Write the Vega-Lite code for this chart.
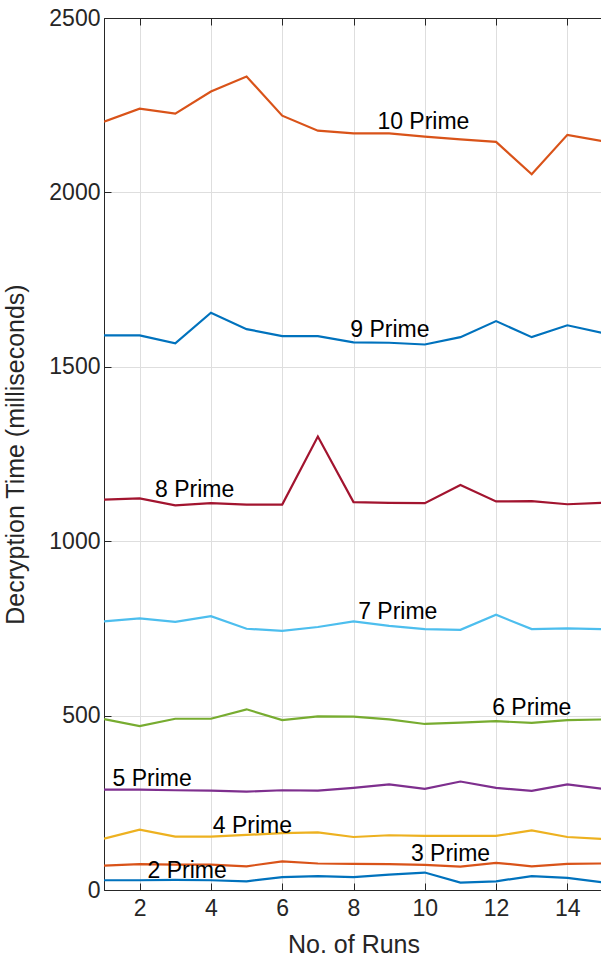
{
  "$schema": "https://vega.github.io/schema/vega-lite/v6.json",
  "autosize": "none",
  "width": 499,
  "height": 872,
  "padding": {"left": 104, "top": 18, "right": 0, "bottom": 73},
  "background": "#ffffff",
  "config": {
    "font": "Liberation Sans",
    "view": {"stroke": "#262626", "strokeWidth": 1},
    "axis": {
      "domainColor": "#262626",
      "tickColor": "#262626",
      "labelColor": "#262626",
      "titleColor": "#262626",
      "gridColor": "#dedede",
      "gridWidth": 1,
      "labelFont": "Liberation Sans",
      "titleFont": "Liberation Sans",
      "labelFontSize": 23,
      "titleFontSize": 25,
      "titleFontWeight": "normal",
      "tickSize": -7
    }
  },
  "datasets": {
    "runs": [
      {"series": "10 Prime", "run": 1, "time": 2203}, {"series": "10 Prime", "run": 2, "time": 2240}, {"series": "10 Prime", "run": 3, "time": 2226}, {"series": "10 Prime", "run": 4, "time": 2289}, {"series": "10 Prime", "run": 5, "time": 2332}, {"series": "10 Prime", "run": 6, "time": 2220}, {"series": "10 Prime", "run": 7, "time": 2177}, {"series": "10 Prime", "run": 8, "time": 2169}, {"series": "10 Prime", "run": 9, "time": 2169}, {"series": "10 Prime", "run": 10, "time": 2160}, {"series": "10 Prime", "run": 11, "time": 2152}, {"series": "10 Prime", "run": 12, "time": 2145}, {"series": "10 Prime", "run": 13, "time": 2052}, {"series": "10 Prime", "run": 14, "time": 2165}, {"series": "10 Prime", "run": 15, "time": 2147},
      {"series": "9 Prime", "run": 1, "time": 1590}, {"series": "9 Prime", "run": 2, "time": 1590}, {"series": "9 Prime", "run": 3, "time": 1567}, {"series": "9 Prime", "run": 4, "time": 1655}, {"series": "9 Prime", "run": 5, "time": 1608}, {"series": "9 Prime", "run": 6, "time": 1588}, {"series": "9 Prime", "run": 7, "time": 1588}, {"series": "9 Prime", "run": 8, "time": 1570}, {"series": "9 Prime", "run": 9, "time": 1569}, {"series": "9 Prime", "run": 10, "time": 1564}, {"series": "9 Prime", "run": 11, "time": 1585}, {"series": "9 Prime", "run": 12, "time": 1631}, {"series": "9 Prime", "run": 13, "time": 1585}, {"series": "9 Prime", "run": 14, "time": 1619}, {"series": "9 Prime", "run": 15, "time": 1597},
      {"series": "8 Prime", "run": 1, "time": 1119}, {"series": "8 Prime", "run": 2, "time": 1123}, {"series": "8 Prime", "run": 3, "time": 1103}, {"series": "8 Prime", "run": 4, "time": 1109}, {"series": "8 Prime", "run": 5, "time": 1105}, {"series": "8 Prime", "run": 6, "time": 1105}, {"series": "8 Prime", "run": 7, "time": 1300}, {"series": "8 Prime", "run": 8, "time": 1112}, {"series": "8 Prime", "run": 9, "time": 1110}, {"series": "8 Prime", "run": 10, "time": 1109}, {"series": "8 Prime", "run": 11, "time": 1161}, {"series": "8 Prime", "run": 12, "time": 1114}, {"series": "8 Prime", "run": 13, "time": 1115}, {"series": "8 Prime", "run": 14, "time": 1106}, {"series": "8 Prime", "run": 15, "time": 1110},
      {"series": "7 Prime", "run": 1, "time": 770}, {"series": "7 Prime", "run": 2, "time": 779}, {"series": "7 Prime", "run": 3, "time": 769}, {"series": "7 Prime", "run": 4, "time": 785}, {"series": "7 Prime", "run": 5, "time": 749}, {"series": "7 Prime", "run": 6, "time": 743}, {"series": "7 Prime", "run": 7, "time": 754}, {"series": "7 Prime", "run": 8, "time": 770}, {"series": "7 Prime", "run": 9, "time": 757}, {"series": "7 Prime", "run": 10, "time": 748}, {"series": "7 Prime", "run": 11, "time": 746}, {"series": "7 Prime", "run": 12, "time": 789}, {"series": "7 Prime", "run": 13, "time": 748}, {"series": "7 Prime", "run": 14, "time": 750}, {"series": "7 Prime", "run": 15, "time": 748},
      {"series": "6 Prime", "run": 1, "time": 490}, {"series": "6 Prime", "run": 2, "time": 470}, {"series": "6 Prime", "run": 3, "time": 491}, {"series": "6 Prime", "run": 4, "time": 491}, {"series": "6 Prime", "run": 5, "time": 518}, {"series": "6 Prime", "run": 6, "time": 487}, {"series": "6 Prime", "run": 7, "time": 498}, {"series": "6 Prime", "run": 8, "time": 497}, {"series": "6 Prime", "run": 9, "time": 489}, {"series": "6 Prime", "run": 10, "time": 476}, {"series": "6 Prime", "run": 11, "time": 480}, {"series": "6 Prime", "run": 12, "time": 484}, {"series": "6 Prime", "run": 13, "time": 479}, {"series": "6 Prime", "run": 14, "time": 487}, {"series": "6 Prime", "run": 15, "time": 489},
      {"series": "5 Prime", "run": 1, "time": 288}, {"series": "5 Prime", "run": 2, "time": 288}, {"series": "5 Prime", "run": 3, "time": 286}, {"series": "5 Prime", "run": 4, "time": 285}, {"series": "5 Prime", "run": 5, "time": 282}, {"series": "5 Prime", "run": 6, "time": 286}, {"series": "5 Prime", "run": 7, "time": 285}, {"series": "5 Prime", "run": 8, "time": 293}, {"series": "5 Prime", "run": 9, "time": 303}, {"series": "5 Prime", "run": 10, "time": 290}, {"series": "5 Prime", "run": 11, "time": 311}, {"series": "5 Prime", "run": 12, "time": 293}, {"series": "5 Prime", "run": 13, "time": 284}, {"series": "5 Prime", "run": 14, "time": 303}, {"series": "5 Prime", "run": 15, "time": 290},
      {"series": "4 Prime", "run": 1, "time": 147}, {"series": "4 Prime", "run": 2, "time": 173}, {"series": "4 Prime", "run": 3, "time": 153}, {"series": "4 Prime", "run": 4, "time": 153}, {"series": "4 Prime", "run": 5, "time": 158}, {"series": "4 Prime", "run": 6, "time": 163}, {"series": "4 Prime", "run": 7, "time": 165}, {"series": "4 Prime", "run": 8, "time": 152}, {"series": "4 Prime", "run": 9, "time": 157}, {"series": "4 Prime", "run": 10, "time": 155}, {"series": "4 Prime", "run": 11, "time": 155}, {"series": "4 Prime", "run": 12, "time": 155}, {"series": "4 Prime", "run": 13, "time": 171}, {"series": "4 Prime", "run": 14, "time": 152}, {"series": "4 Prime", "run": 15, "time": 146},
      {"series": "3 Prime", "run": 1, "time": 70}, {"series": "3 Prime", "run": 2, "time": 74}, {"series": "3 Prime", "run": 3, "time": 73}, {"series": "3 Prime", "run": 4, "time": 73}, {"series": "3 Prime", "run": 5, "time": 68}, {"series": "3 Prime", "run": 6, "time": 82}, {"series": "3 Prime", "run": 7, "time": 76}, {"series": "3 Prime", "run": 8, "time": 75}, {"series": "3 Prime", "run": 9, "time": 74}, {"series": "3 Prime", "run": 10, "time": 72}, {"series": "3 Prime", "run": 11, "time": 67}, {"series": "3 Prime", "run": 12, "time": 78}, {"series": "3 Prime", "run": 13, "time": 68}, {"series": "3 Prime", "run": 14, "time": 75}, {"series": "3 Prime", "run": 15, "time": 76},
      {"series": "2 Prime", "run": 1, "time": 28}, {"series": "2 Prime", "run": 2, "time": 28}, {"series": "2 Prime", "run": 3, "time": 29}, {"series": "2 Prime", "run": 4, "time": 28}, {"series": "2 Prime", "run": 5, "time": 25}, {"series": "2 Prime", "run": 6, "time": 37}, {"series": "2 Prime", "run": 7, "time": 40}, {"series": "2 Prime", "run": 8, "time": 37}, {"series": "2 Prime", "run": 9, "time": 44}, {"series": "2 Prime", "run": 10, "time": 50}, {"series": "2 Prime", "run": 11, "time": 21}, {"series": "2 Prime", "run": 12, "time": 25}, {"series": "2 Prime", "run": 13, "time": 40}, {"series": "2 Prime", "run": 14, "time": 35}, {"series": "2 Prime", "run": 15, "time": 22}
    ],
    "labels": [
      {"label": "10 Prime", "run": 8.67, "time": 2203},
      {"label": "9 Prime", "run": 7.91, "time": 1606},
      {"label": "8 Prime", "run": 2.43, "time": 1147},
      {"label": "7 Prime", "run": 8.13, "time": 796},
      {"label": "6 Prime", "run": 11.89, "time": 521},
      {"label": "5 Prime", "run": 1.24, "time": 317},
      {"label": "4 Prime", "run": 4.05, "time": 183},
      {"label": "3 Prime", "run": 9.61, "time": 102},
      {"label": "2 Prime", "run": 2.22, "time": 55}
    ]
  },
  "resolve": {"axis": {"x": "independent"}},
  "layer": [
    {
      "data": {"name": "runs"},
      "mark": {"type": "line", "strokeWidth": 2.2, "clip": true},
      "encoding": {
        "x": {
          "field": "run", "type": "quantitative",
          "scale": {"domain": [1, 15], "nice": false, "zero": false},
          "axis": {"orient": "bottom", "values": [2, 4, 6, 8, 10, 12, 14], "grid": true, "title": "No. of Runs", "labelPadding": 14, "titlePadding": 12}
        },
        "y": {
          "field": "time", "type": "quantitative",
          "scale": {"domain": [0, 2500], "nice": false},
          "axis": {"values": [0, 500, 1000, 1500, 2000, 2500], "format": "d", "grid": true, "title": "Decryption Time (milliseconds)", "labelPadding": 11, "titlePadding": 20}
        },
        "color": {
          "field": "series", "type": "nominal", "legend": null,
          "scale": {
            "domain": ["10 Prime", "9 Prime", "8 Prime", "7 Prime", "6 Prime", "5 Prime", "4 Prime", "3 Prime", "2 Prime"],
            "range": ["#D95319", "#0072BD", "#A2142F", "#4DBEEE", "#77AC30", "#7E2F8E", "#EDB120", "#D95319", "#0072BD"]
          }
        },
        "detail": {"field": "series"}
      }
    },
    {
      "data": {"name": "runs"},
      "mark": {"type": "rule", "opacity": 0},
      "encoding": {
        "x": {"field": "run", "type": "quantitative", "axis": {"orient": "top", "values": [2, 4, 6, 8, 10, 12, 14], "labels": false, "title": null, "grid": false, "domain": true}}
      }
    },
    {
      "data": {"name": "labels"},
      "mark": {"type": "text", "align": "left", "baseline": "middle", "fontSize": 23, "font": "Liberation Sans", "color": "#000000"},
      "encoding": {
        "x": {"field": "run", "type": "quantitative", "axis": null},
        "y": {"field": "time", "type": "quantitative"},
        "text": {"field": "label"}
      }
    }
  ]
}
